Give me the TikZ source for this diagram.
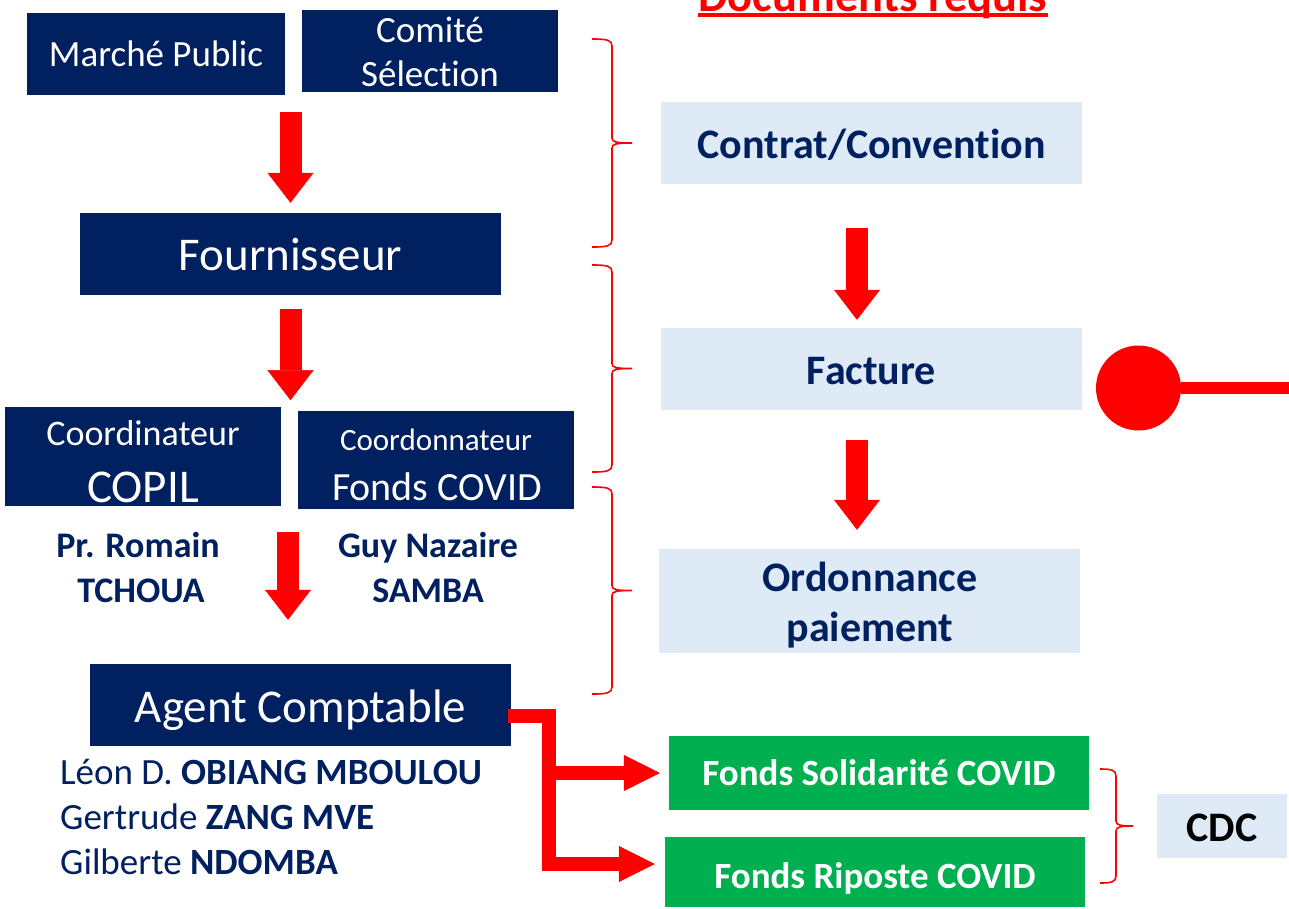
\documentclass[tikz,border=0pt]{standalone}
\usepackage{fontspec}
\setmainfont{Carlito}[RawFeature={-liga;-clig;-calt;-dlig;-rlig}]
\usetikzlibrary{arrows.meta,calc}
\definecolor{navy}{HTML}{002060}
\definecolor{lblue}{HTML}{DEEBF7}
\definecolor{gr}{HTML}{00B050}
\definecolor{rd}{HTML}{FF0000}
\newcommand{\redbrace}[5]{%
  \pgfmathsetmacro\rbYmid{(#4+#5)/2}%
  \draw[bracestyle] (#1,#4) .. controls (#2-5,#4) and (#2,#4+1) .. (#2,#4+7)
    -- (#2,\rbYmid-5) .. controls (#2,\rbYmid-1) and (#2+4,\rbYmid) .. (#3,\rbYmid)
    .. controls (#2+4,\rbYmid) and (#2,\rbYmid+1) .. (#2,\rbYmid+5)
    -- (#2,#5-7) .. controls (#2,#5-1) and (#2-5,#5) .. (#1,#5);}
\tikzset{
  navybox/.style={fill=navy, text=white, inner sep=0pt},
  bluebox/.style={fill=lblue, text=navy, inner sep=0pt, font=\bfseries\fontsize{42}{50}\selectfont},
  greenbox/.style={fill=gr, text=white, inner sep=0pt, font=\bfseries\fontsize{37}{44}\selectfont},
  wtext/.style={text=white, inner sep=0pt, anchor=base},
  nametext/.style={text=navy, inner sep=0pt, font=\fontsize{37}{45}\selectfont},
  bigarrow/.style={draw=rd, line width=22pt, -{Triangle[width=46pt,length=30pt,line width=0.5pt]}},
  elbow/.style={draw=rd, line width=14pt, line join=miter, -{Triangle[width=36pt,length=36pt,line width=0.5pt]}},
  bracestyle/.style={draw=rd, line width=1.6pt}
}
\begin{document}
\begin{tikzpicture}[x=1pt,y=-1pt]
\useasboundingbox (0,0) rectangle (1289,908);
\fill[white] (0,0) rectangle (1289,908);

% title
\node[font=\bfseries\fontsize{46.5}{56}\selectfont, text=rd, anchor=base, inner sep=0pt] (title) at (873,11) {Documents requis};
\draw[rd, line width=3.5pt] ([yshift=-4pt]title.base west) -- ([yshift=-4pt]title.base east);

% left column boxes
\node[navybox, minimum width=258pt, minimum height=82pt, font=\fontsize{37}{44}\selectfont] (mp) at (156,54) {Marché Public};
\node[navybox, minimum width=256pt, minimum height=82pt] (cs) at (430,51) {};
\node[wtext, font=\fontsize{37}{44}\selectfont] (cs1) at (430,42) {Comité};
\node[wtext, font=\fontsize{37}{44}\selectfont] (cs2) at (430,86) {Sélection};

\node[navybox, minimum width=421pt, minimum height=82pt, font=\fontsize{47}{56}\selectfont] (four) at (290.5,254) {Fournisseur};

\node[navybox, minimum width=276pt, minimum height=99pt] (copil) at (143,456.5) {};
\node[wtext, font=\fontsize{36}{43}\selectfont] (copil1) at (143,445) {Coordinateur};
\node[wtext, font=\fontsize{47}{56}\selectfont] (copil2) at (143,502) {COPIL};

\node[navybox, minimum width=276pt, minimum height=98pt] (fcov) at (436,460) {};
\node[wtext, font=\fontsize{31}{37}\selectfont] (fcov1) at (436,450) {Coordonnateur};
\node[wtext, font=\fontsize{40}{48}\selectfont] (fcov2) at (437,500) {Fonds COVID};

\node[nametext, font=\bfseries\fontsize{36}{43}\selectfont, anchor=base] (pr1) at (138,557) {Pr. Romain};
\node[nametext, font=\bfseries\fontsize{36}{43}\selectfont, anchor=base] (pr2) at (141,602) {TCHOUA};
\node[nametext, font=\bfseries\fontsize{36}{43}\selectfont, anchor=base] (gn1) at (428,557) {Guy Nazaire};
\node[nametext, font=\bfseries\fontsize{36}{43}\selectfont, anchor=base] (gn2) at (428,602) {SAMBA};

\node[navybox, minimum width=421pt, minimum height=82pt, font=\fontsize{47}{56}\selectfont, text height=35pt, text depth=0pt] (agent) at (300.5,705) {Agent Comptable};

\node[nametext, anchor=base west] (n1) at (60,784) {Léon D. \textbf{OBIANG MBOULOU}};
\node[nametext, anchor=base west] (n2) at (60,829) {Gertrude \textbf{ZANG MVE}};
\node[nametext, anchor=base west] (n3) at (60,874) {Gilberte \textbf{NDOMBA}};

% right column
\node[bluebox, minimum width=421pt, minimum height=82pt, text height=31pt, text depth=0pt] (contrat) at (871.5,143) {Contrat/Convention};
\node[bluebox, minimum width=421pt, minimum height=82pt, text height=31pt, text depth=0pt] (fact) at (871.5,369) {Facture};
\node[bluebox, minimum width=421pt, minimum height=104pt] (ord) at (869.5,601) {};
\node[wtext, text=navy, font=\bfseries\fontsize{42}{50}\selectfont] (ord1) at (870,591) {Ordonnance};
\node[wtext, text=navy, font=\bfseries\fontsize{42}{50}\selectfont] (ord2) at (870,641) {paiement};

\node[greenbox, minimum width=420pt, minimum height=74pt] (sol) at (879,773) {Fonds Solidarité COVID};
\node[greenbox, minimum width=420pt, minimum height=70pt, text height=32pt, text depth=0pt] (rip) at (875,872) {Fonds Riposte COVID};
\node[fill=lblue, text=black, inner sep=0pt, minimum width=130pt, minimum height=64pt, font=\bfseries\fontsize{42}{50}\selectfont, text height=31pt, text depth=0pt] (cdc) at (1222,826) {CDC};

% big arrows
\draw[bigarrow] ([yshift=101pt]four.north) -- ([yshift=10pt]four.north);
\draw[bigarrow] ([yshift=-14pt]four.south) -- ([yshift=-105pt]four.south);
\draw[bigarrow] ([xshift=-12.5pt,yshift=132pt]agent.north) -- ([xshift=-12.5pt,yshift=44pt]agent.north);
\draw[bigarrow] ([xshift=-14.5pt,yshift=100pt]fact.north) -- ([xshift=-14.5pt,yshift=8pt]fact.north);
\draw[bigarrow] ([xshift=-12.5pt,yshift=109pt]ord.north) -- ([xshift=-12.5pt,yshift=19pt]ord.north);

% elbow connector
\coordinate (e1) at (549,864);
\coordinate (e2) at (549,773);
\draw[elbow] ([xshift=-3pt,yshift=-11pt]agent.east) -| (e1) -- ([xshift=-10pt,yshift=8pt]rip.west);
\draw[elbow] (e2) -- ([xshift=-9pt]sol.west);

% red dot
\coordinate (dend) at (1289,388);
\node[circle, fill=rd, minimum size=85pt, inner sep=0pt] (dot) at (1138.5,388) {};
\draw[rd, line width=12pt] (dot.east) -- (dend);

% braces
\redbrace{592}{612}{632}{39}{247}
\redbrace{592}{612}{632}{265}{472}
\redbrace{592}{612}{632}{487}{694}
\redbrace{1100}{1116}{1133}{769}{883}
\end{tikzpicture}
\end{document}
